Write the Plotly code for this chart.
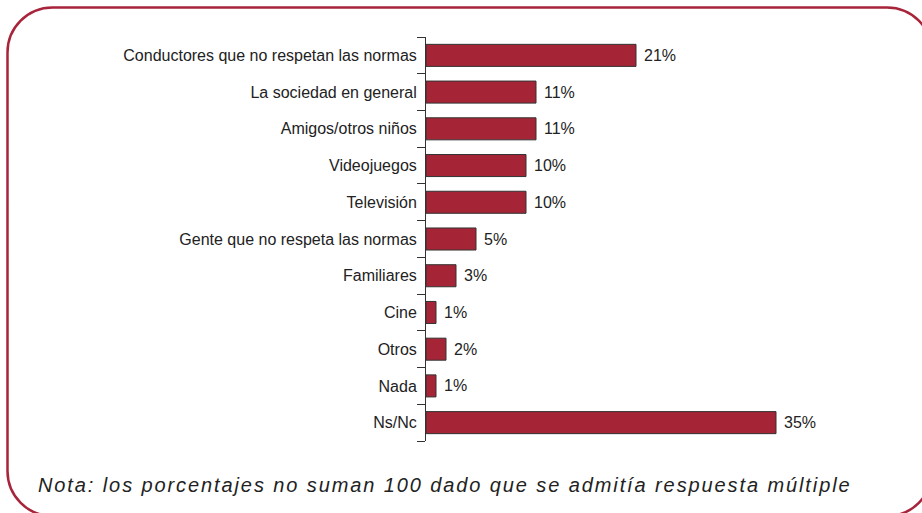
import plotly.graph_objects as go

categories = [
    "Conductores que no respetan las normas",
    "La sociedad en general",
    "Amigos/otros niños",
    "Videojuegos",
    "Televisión",
    "Gente que no respeta las normas",
    "Familiares",
    "Cine",
    "Otros",
    "Nada",
    "Ns/Nc",
]
values = [21, 11, 11, 10, 10, 5, 3, 1, 2, 1, 35]
value_labels = [f"{v}%" for v in values]
note = "Nota: los porcentajes no suman 100 dado que se admitía respuesta múltiple"

W, H = 922, 513
L, R, T, B = 426, 96, 37, 72
PW, PH = W - L - R, H - T - B
FONT = "Liberation Sans, Arial, Helvetica, sans-serif"
TXT = "#222222"


def px(x):
    return (x - L) / PW


def py(y):
    return (H - B - y) / PH


# rounded frame (pixel corners -> paper coords), corners as cubic arcs
x0, y0, x1, y1, r = 7.5, 7.5, 932, 516, 45
k = 0.5523 * r
pts = [
    ("M", [(x0 + r, y0)]),
    ("L", [(x1 - r, y0)]),
    ("C", [(x1 - r + k, y0), (x1, y0 + r - k), (x1, y0 + r)]),
    ("L", [(x1, y1 - r)]),
    ("C", [(x1, y1 - r + k), (x1 - r + k, y1), (x1 - r, y1)]),
    ("L", [(x0 + r, y1)]),
    ("C", [(x0 + r - k, y1), (x0, y1 - r + k), (x0, y1 - r)]),
    ("L", [(x0, y0 + r)]),
    ("C", [(x0, y0 + r - k), (x0 + r - k, y0), (x0 + r, y0)]),
]
path = ""
for cmd, ps in pts:
    path += cmd + " " + " ".join(f"{px(a):.5f},{py(b):.5f}" for a, b in ps) + " "
path += "Z"

fig = go.Figure(
    go.Bar(
        x=values,
        y=categories,
        orientation="h",
        width=0.6,
        marker=dict(color="#a52536", line=dict(color="#333333", width=1)),
        hoverinfo="skip",
    )
)

annotations = [
    dict(x=v, y=c, xref="x", yref="y", text=t, showarrow=False,
         xanchor="left", yanchor="middle", xshift=6,
         font=dict(family=FONT, size=16, color=TXT))
    for v, c, t in zip(values, categories, value_labels)
]
annotations.append(
    dict(text='<span style="letter-spacing:1.9px"><i>' + note + "</i></span>",
         xref="paper", yref="paper", x=px(36), y=py(485),
         xanchor="left", yanchor="middle", showarrow=False,
         font=dict(family=FONT, size=20, color=TXT))
)

fig.update_layout(
    width=W,
    height=H,
    margin=dict(l=L, r=R, t=T, b=B, autoexpand=False),
    paper_bgcolor="white",
    plot_bgcolor="white",
    showlegend=False,
    font=dict(family=FONT, size=16, color=TXT),
    xaxis=dict(range=[0, PW / 10], visible=False, fixedrange=True),
    yaxis=dict(
        categoryorder="array",
        categoryarray=categories[::-1],
        tickson="boundaries",
        ticks="outside",
        ticklen=8,
        tickcolor="#333333",
        ticklabelstandoff=5,
        showline=True,
        linecolor="#333333",
        linewidth=1,
        showgrid=False,
        tickfont=dict(family=FONT, size=16, color=TXT),
        fixedrange=True,
    ),
    shapes=[
        dict(type="path", xref="paper", yref="paper", path=path,
             line=dict(color="#a8243a", width=2.5), fillcolor="rgba(0,0,0,0)", layer="above")
    ],
    annotations=annotations,
)

fig.write_html(
    "out.html",
    config={"displayModeBar": False},
    post_script="document.body.style.margin='0';document.body.style.overflow='hidden';",
)
